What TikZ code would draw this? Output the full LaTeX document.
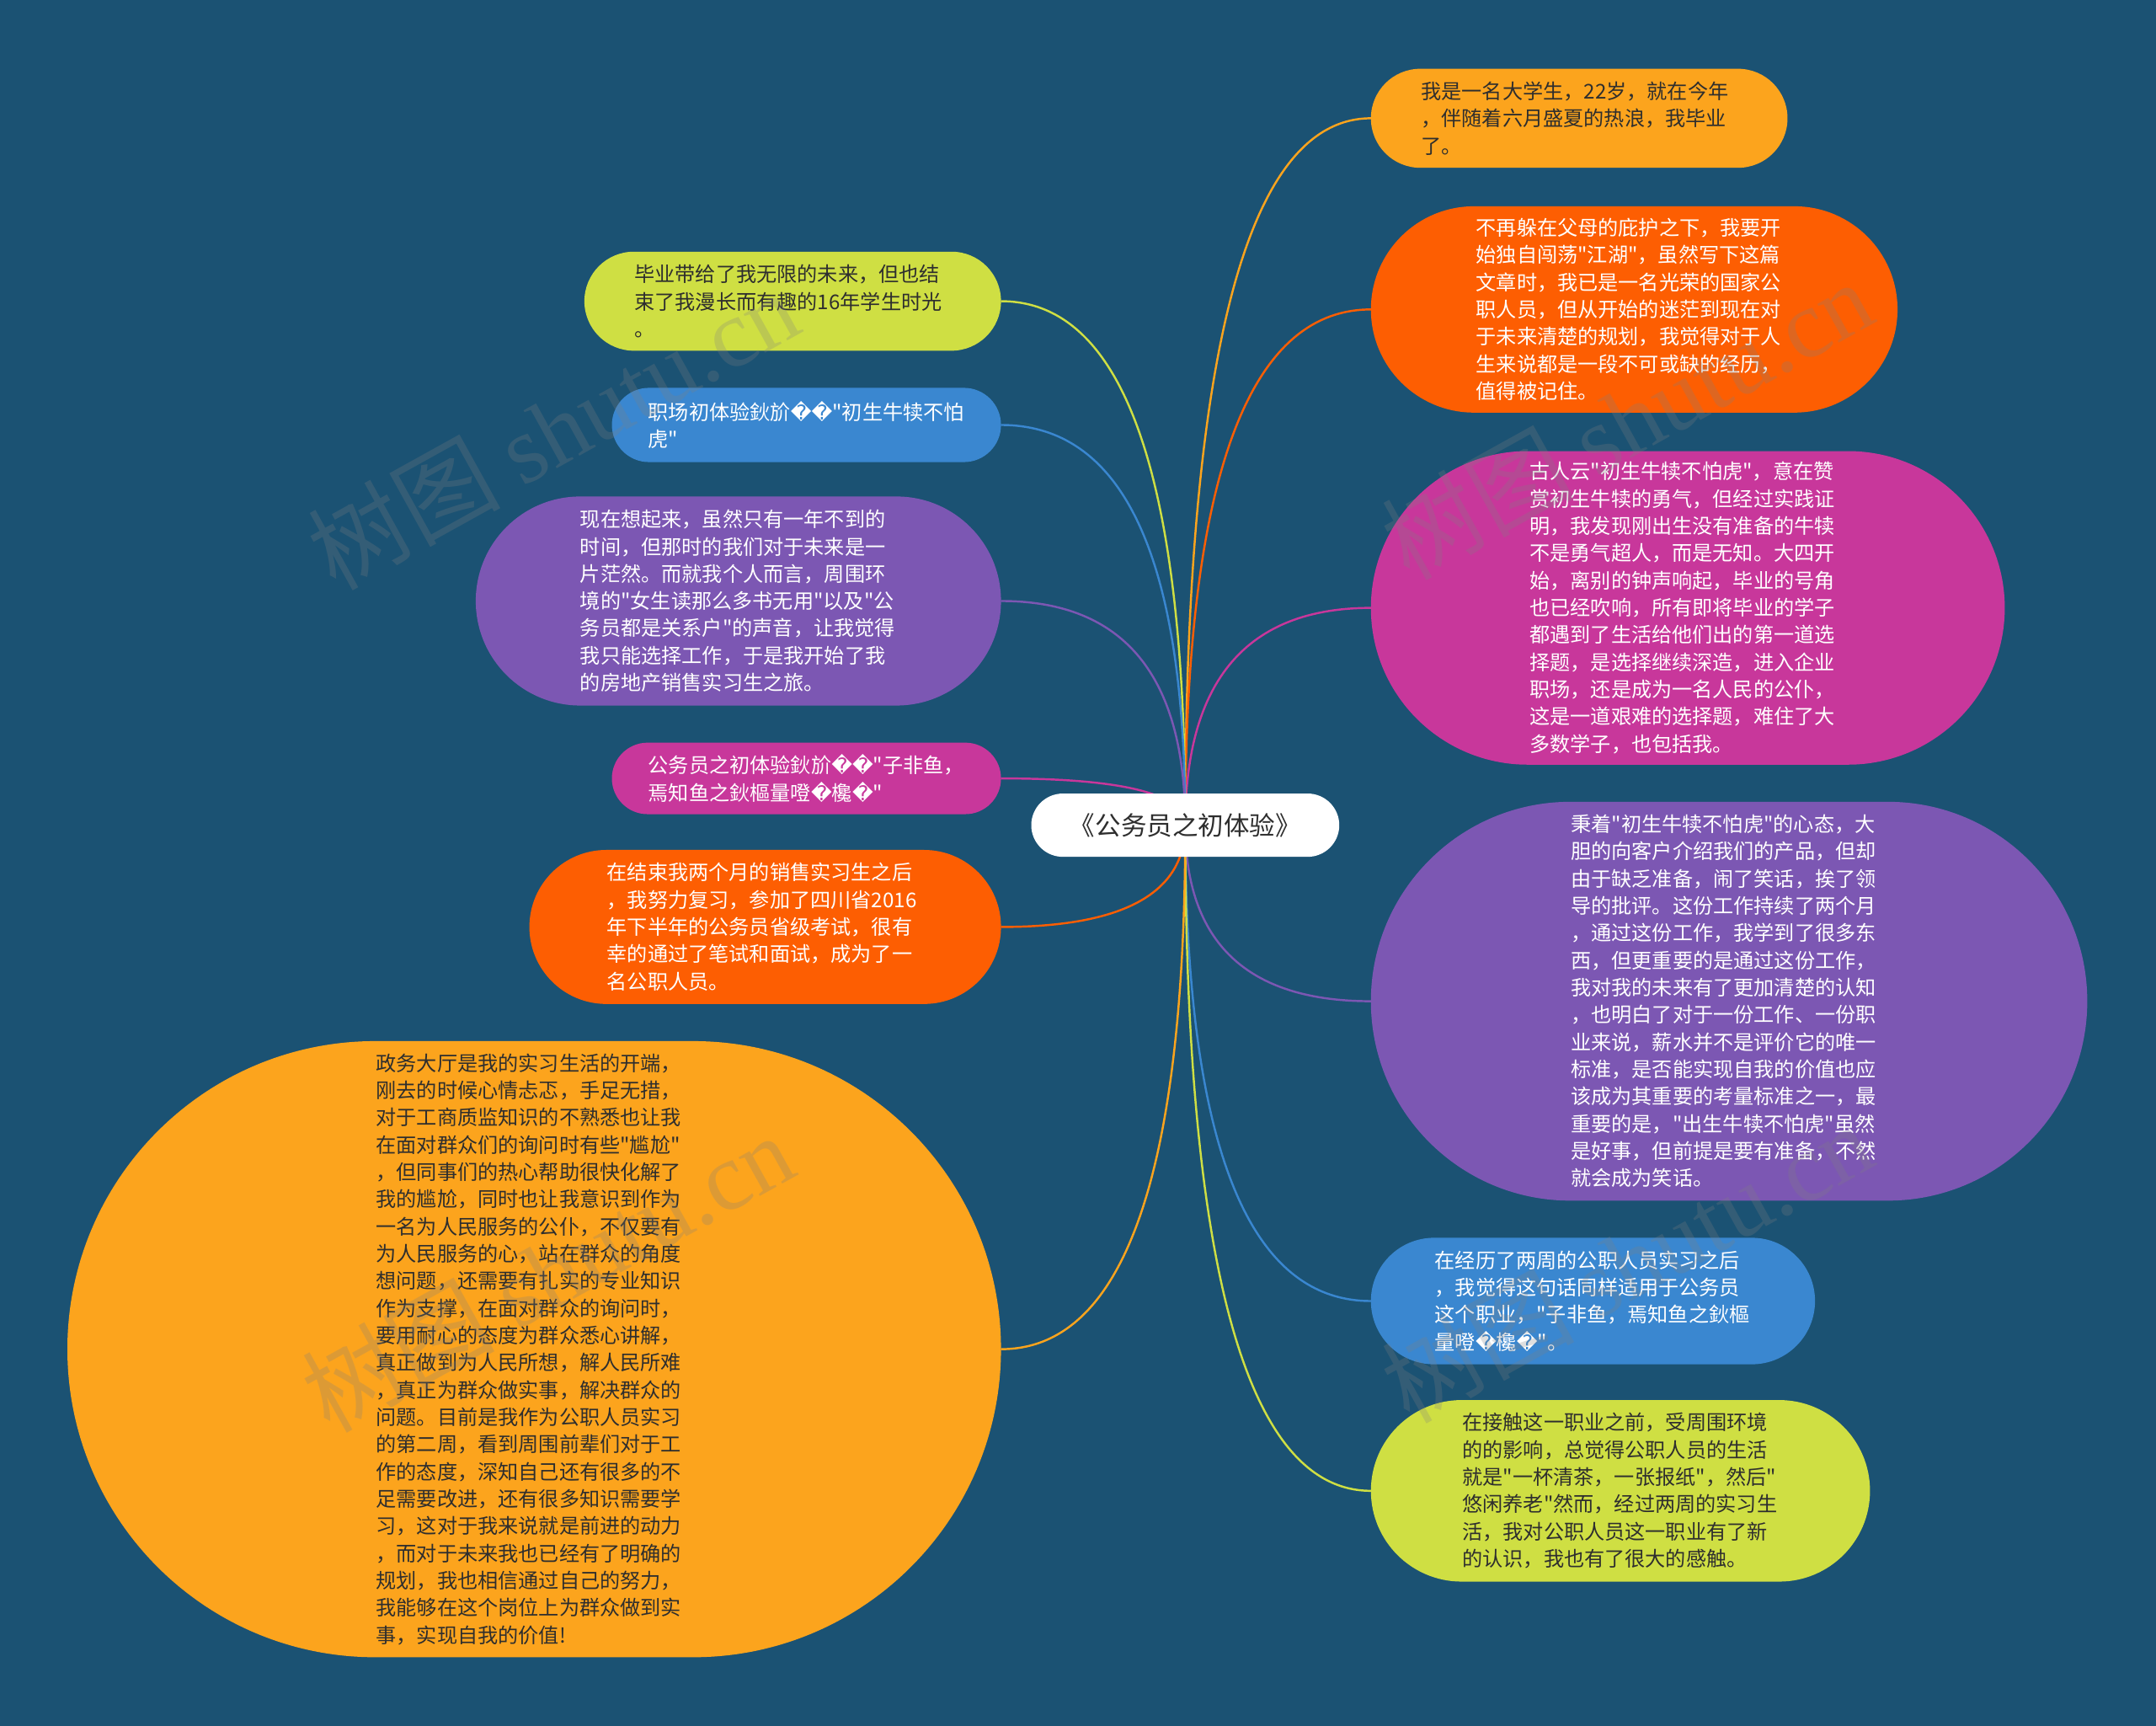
\documentclass[tikz,border=0pt]{standalone}
\usepackage{fontspec}
\setmainfont{Noto Sans CJK SC}[Ligatures=TeXOff]
\newfontfamily\dvs{DejaVu Sans}
\newfontfamily\wmserif{Liberation Serif}
\usetikzlibrary{calc}
\newcommand\rp{{\dvs\symbol{"FFFD}}}
\definecolor{bgc}{HTML}{1B5273}
\definecolor{cOr}{HTML}{FCA41D}
\definecolor{cRed}{HTML}{FD5E02}
\definecolor{cMag}{HTML}{C8379B}
\definecolor{cPur}{HTML}{7C57B3}
\definecolor{cBlu}{HTML}{3A87D0}
\definecolor{cYel}{HTML}{CFDF43}
\definecolor{cDark}{HTML}{2E2E2E}
\pgfdeclarelayer{bgl}
\pgfdeclarelayer{edges}
\pgfsetlayers{bgl,edges,main}
\newcommand\mmlink[3]{%
  \draw[link,#3] (ctr.center) .. controls ($(ctr.center)!0.667!(ctr.center|-#1.#2)$) and ($(#1.#2)!0.667!(ctr.center|-#1.#2)$) .. (#1.#2);}
\tikzset{
  bub/.style n args={4}{rectangle, fill=#1, text=#2, minimum width=#3, minimum height=#4,
    rounded corners=#4/2-0.01, inner sep=0pt, outer sep=0pt, text width=230pt, align=left,
    font=\fontsize{14.8}{19.8}\selectfont},
  ctrbox/.style={rectangle, fill=white, text=cDark, minimum width=224, minimum height=46,
    rounded corners=22.99, inner sep=0pt, outer sep=0pt, font=\fontsize{18.7}{22}\selectfont},
  link/.style={line width=1.5pt},
  wm/.style={text=gray, opacity=0.25, font=\fontsize{70}{70}\selectfont, inner sep=0pt, rotate=29}
}
\begin{document}
\begin{tikzpicture}[x=1pt,y=-1pt]
\begin{pgfonlayer}{bgl}
\fill[bgc] (0,0) rectangle (1568,1255);
\end{pgfonlayer}
\useasboundingbox (0,0) rectangle (1568,1255);

\node[ctrbox] (ctr) at (862,600) {《公务员之初体验》};

% right side
\node[bub={cOr}{cDark}{303}{72}] (n1) at (1148.5,86) {我是一名大学生，22岁，就在今年\\，伴随着六月盛夏的热浪，我毕业\\了。};
\node[bub={cRed}{white}{383}{150}] (n2) at (1188.5,225) {不再躲在父母的庇护之下，我要开\\始独自闯荡"江湖"，虽然写下这篇\\文章时，我已是一名光荣的国家公\\职人员，但从开始的迷茫到现在对\\于未来清楚的规划，我觉得对于人\\生来说都是一段不可或缺的经历，\\值得被记住。};
\node[bub={cMag}{white}{461}{228}] (n3) at (1227.5,442) {古人云"初生牛犊不怕虎"，意在赞\\赏初生牛犊的勇气，但经过实践证\\明，我发现刚出生没有准备的牛犊\\不是勇气超人，而是无知。大四开\\始，离别的钟声响起，毕业的号角\\也已经吹响，所有即将毕业的学子\\都遇到了生活给他们出的第一道选\\择题，是选择继续深造，进入企业\\职场，还是成为一名人民的公仆，\\这是一道艰难的选择题，难住了大\\多数学子，也包括我。};
\node[bub={cPur}{white}{521}{290}] (n4) at (1257.5,728) {秉着"初生牛犊不怕虎"的心态，大\\胆的向客户介绍我们的产品，但却\\由于缺乏准备，闹了笑话，挨了领\\导的批评。这份工作持续了两个月\\，通过这份工作，我学到了很多东\\西，但更重要的是通过这份工作，\\我对我的未来有了更加清楚的认知\\，也明白了对于一份工作、一份职\\业来说，薪水并不是评价它的唯一\\标准，是否能实现自我的价值也应\\该成为其重要的考量标准之一，最\\重要的是，"出生牛犊不怕虎"虽然\\是好事，但前提是要有准备，不然\\就会成为笑话。};
\node[bub={cBlu}{white}{323}{92}] (n5) at (1158.5,946) {在经历了两周的公职人员实习之后\\，我觉得这句话同样适用于公务员\\这个职业，"子非鱼，焉知鱼之鈥樞\\量噔\rp 欃\rp "。};
\node[bub={cYel}{cDark}{363}{132}] (n6) at (1178.5,1084) {在接触这一职业之前，受周围环境\\的的影响，总觉得公职人员的生活\\就是"一杯清茶，一张报纸"，然后"\\悠闲养老"然而，经过两周的实习生\\活，我对公职人员这一职业有了新\\的认识，我也有了很大的感触。};

% left side
\node[bub={cYel}{cDark}{303}{72}] (n7) at (576.5,219) {毕业带给了我无限的未来，但也结\\束了我漫长而有趣的16年学生时光\\。};
\node[bub={cBlu}{white}{283}{54}] (n8) at (586.5,309) {职场初体验鈥斺\rp\rp "初生牛犊不怕\\虎"};
\node[bub={cPur}{white}{382}{152}] (n9) at (537,437) {现在想起来，虽然只有一年不到的\\时间，但那时的我们对于未来是一\\片茫然。而就我个人而言，周围环\\境的"女生读那么多书无用"以及"公\\务员都是关系户"的声音，让我觉得\\我只能选择工作，于是我开始了我\\的房地产销售实习生之旅。};
\node[bub={cMag}{white}{283}{52}] (n10) at (586.5,566) {公务员之初体验鈥斺\rp\rp "子非鱼，\\焉知鱼之鈥樞量噔\rp 欃\rp "};
\node[bub={cRed}{white}{343}{112}] (n11) at (556.5,674) {在结束我两个月的销售实习生之后\\，我努力复习，参加了四川省2016\\年下半年的公务员省级考试，很有\\幸的通过了笔试和面试，成为了一\\名公职人员。};
\node[bub={cOr}{cDark}{679}{448}] (n12) at (388.5,981) {政务大厅是我的实习生活的开端，\\刚去的时候心情忐忑，手足无措，\\对于工商质监知识的不熟悉也让我\\在面对群众们的询问时有些"尴尬"\\，但同事们的热心帮助很快化解了\\我的尴尬，同时也让我意识到作为\\一名为人民服务的公仆，不仅要有\\为人民服务的心，站在群众的角度\\想问题，还需要有扎实的专业知识\\作为支撑，在面对群众的询问时，\\要用耐心的态度为群众悉心讲解，\\真正做到为人民所想，解人民所难\\，真正为群众做实事，解决群众的\\问题。目前是我作为公职人员实习\\的第二周，看到周围前辈们对于工\\作的态度，深知自己还有很多的不\\足需要改进，还有很多知识需要学\\习，这对于我来说就是前进的动力\\，而对于未来我也已经有了明确的\\规划，我也相信通过自己的努力，\\我能够在这个岗位上为群众做到实\\事，实现自我的价值!};

\begin{pgfonlayer}{edges}
\mmlink{n1}{west}{cOr}
\mmlink{n2}{west}{cRed}
\mmlink{n3}{west}{cMag}
\mmlink{n4}{west}{cPur}
\mmlink{n5}{west}{cBlu}
\mmlink{n6}{west}{cYel}
\mmlink{n7}{east}{cYel}
\mmlink{n8}{east}{cBlu}
\mmlink{n9}{east}{cPur}
\mmlink{n10}{east}{cMag}
\mmlink{n11}{east}{cRed}
\mmlink{n12}{east}{cOr}
\end{pgfonlayer}

% watermarks
\node[wm] (w1) at (402,312) {树图 {\wmserif shutu.cn}};
\node[wm] (w2) at (1183,305) {树图 {\wmserif shutu.cn}};
\node[wm] (w3) at (398,925) {树图 {\wmserif shutu.cn}};
\node[wm] (w4) at (1183,918) {树图 {\wmserif shutu.cn}};
\end{tikzpicture}
\end{document}
